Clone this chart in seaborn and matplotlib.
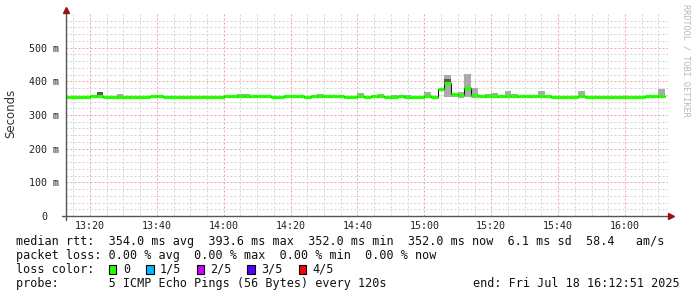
import numpy as np
import pandas as pd
import matplotlib
matplotlib.use("Agg")
import matplotlib.pyplot as plt
import seaborn as sns
from matplotlib.lines import Line2D
from matplotlib.patches import Rectangle

# ---------------- data ----------------
# bin start (minutes after 13:00), 2-minute steps
bin_start = list(range(12, 192, 2))
median_ms = [352, 352, 352, 352, 355, 355,
             352, 352, 352, 352, 352, 352, 352,
             355, 355,
             352, 352, 352, 352, 352, 352, 352, 352, 352,
             355, 355, 355, 355, 355, 355, 355,
             352, 352,
             355, 355, 355,
             352,
             355, 355, 355, 355, 355,
             352, 352,
             355, 353,
             355, 355,
             352, 352,
             355, 354,
             352, 352,
             357, 352, 377, 393.6, 362, 359, 380, 360,
             355, 355, 355, 355, 355, 355, 355, 355, 355, 355, 355,
             352, 352, 352, 352,
             356, 354, 354,
             352, 352, 352, 352, 352, 352, 352,
             355, 355, 355]

smoke_t = [22, 28, 32, 38, 42, 44, 54, 64, 66, 88, 100, 106, 110, 114, 120,
           126, 128, 130, 132, 134, 138, 140, 144, 146, 154, 166, 172, 186, 190]
smoke_lo = [355, 354, 353, 353, 352, 352, 353, 354, 354, 354, 354, 354, 354, 354, 352,
            353, 352, 350, 353, 350, 354, 354, 354, 354, 354, 354, 354, 354, 351]
smoke_hi = [368, 362, 356, 357, 356, 356, 357, 362, 362, 362, 366, 362, 360, 360, 368,
            419, 362, 368, 422, 380, 363, 366, 371, 363, 371, 371, 357, 357, 377]
dark_t = [22, 126]
dark_lo = [355, 395]
dark_hi = [368, 407]

xtick_min = [20, 40, 60, 80, 100, 120, 140, 160, 180]
xtick_lab = ["13:20", "13:40", "14:00", "14:20", "14:40", "15:00", "15:20", "15:40", "16:00"]
ytick_val = [0, 100, 200, 300, 400, 500]
ytick_lab = ["0", "100 m", "200 m", "300 m", "400 m", "500 m"]

loss_labels = ["0", "1/5", "2/5", "3/5", "4/5"]
loss_colors = ["#26ff00", "#00b8ff", "#d000ff", "#5200ff", "#ff0000"]

legend_l1 = "median rtt:  354.0 ms avg  393.6 ms max  352.0 ms min  352.0 ms now  6.1 ms sd  58.4   am/s"
legend_l2 = "packet loss: 0.00 % avg  0.00 % max  0.00 % min  0.00 % now"
legend_l3 = "loss color:"
legend_l4 = "probe:       5 ICMP Echo Pings (56 Bytes) every 120s"
legend_end = "end: Fri Jul 18 16:12:51 2025"

# ---------------- figure ----------------
sns.set_theme(style="white")
plt.rcParams['font.family'] = ['DejaVu Sans Mono']

W, H = 697, 297
fig = plt.figure(figsize=(W / 100, H / 100), dpi=100)
fig.patch.set_facecolor("white")


def fx(px):
    return px / W


def fy(py):
    return 1 - py / H


AX_L, AX_R, AX_T, AX_B = 66, 668, 13, 216
ax = fig.add_axes([fx(AX_L), fy(AX_B), (AX_R - AX_L) / W, (AX_B - AX_T) / H])
ax.set_facecolor("white")
ax.set_xlim(12.85, 192.85)
ax.set_ylim(0, 603)

# grid
minor_x = [m for m in range(15, 193, 5) if m not in xtick_min]
minor_y = [v for v in range(20, 603, 20) if v % 100 != 0]
for m in minor_x:
    ax.axvline(m, color="#d2d2d2", lw=0.72, ls=(0, (2, 2)), zorder=0)
for v in minor_y:
    ax.axhline(v, color="#d2d2d2", lw=0.72, ls=(0, (2, 2)), zorder=0)
for m in xtick_min:
    ax.axvline(m, color="#eaa6a6", lw=0.72, ls=(0, (2, 2)), zorder=0.5)
for v in ytick_val[1:]:
    ax.axhline(v, color="#eaa6a6", lw=0.72, ls=(0, (2, 2)), zorder=0.5)

# smoke
s_lo = np.array(smoke_lo, dtype=float)
s_hi = np.array(smoke_hi, dtype=float)
ax.bar(smoke_t, s_hi - s_lo, bottom=s_lo, width=2, align="edge",
       color="#aaaaaa", linewidth=0, zorder=2)
d_lo = np.array(dark_lo, dtype=float)
d_hi = np.array(dark_hi, dtype=float)
ax.bar(dark_t, d_hi - d_lo, bottom=d_lo, width=2, align="edge",
       color="#555555", linewidth=0, zorder=2.1)

# median black step line
df = pd.DataFrame({"t": bin_start + [bin_start[-1] + 2],
                   "rtt": median_ms + [median_ms[-1]]})
sns.lineplot(data=df, x="t", y="rtt", ax=ax, color="#111111", lw=0.75,
             drawstyle="steps-post", estimator=None, zorder=3)

# green median segments (loss 0)
bs = np.array(bin_start, dtype=float)
ax.hlines(median_ms, bs, bs + 2, colors="#26ff00", lw=2.4, zorder=4,
          capstyle="butt")

# axes styling
for s in ax.spines.values():
    s.set_visible(False)
ax.set_xlabel("")
ax.set_ylabel("")
ax.set_xticks(xtick_min)
ax.set_xticklabels(xtick_lab)
ax.set_yticks(ytick_val)
ax.set_yticklabels(ytick_lab)
ax.tick_params(axis="x", length=0, pad=3.5, labelsize=7.2, labelcolor="#222222")
ax.tick_params(axis="y", length=0, pad=15.5, labelsize=7.2, labelcolor="#222222")
for lab in ax.get_yticklabels():
    lab.set_horizontalalignment("center")

# axis lines and arrows (in pixel coordinates)
fig.add_artist(Line2D([fx(AX_L), fx(AX_L)], [fy(220), fy(11)], color="#555555", lw=1.0))
fig.add_artist(Line2D([fx(62), fx(670)], [fy(AX_B), fy(AX_B)], color="#555555", lw=1.0))
fig.add_artist(Line2D([fx(AX_L)], [fy(9.5)], marker="^", markersize=4.5,
                      color="#9b1010", lw=0))
fig.add_artist(Line2D([fx(671)], [fy(AX_B)], marker=">", markersize=4.5,
                      color="#9b1010", lw=0))

# labels
fig.text(fx(11), fy(113), "Seconds", rotation=90, ha="center", va="center",
         fontsize=8.5, color="#333333", family=["DejaVu Sans"])
fig.text(fx(686), fy(4), "RRDTOOL / TOBI OETIKER", rotation=270, ha="center",
         va="top", fontsize=6.1, color="#b8b8b8")

# legend
LFS = 8.5
fig.text(fx(16), fy(241.5), legend_l1, ha="left", va="center", fontsize=LFS, color="#111111")
fig.text(fx(16), fy(255.5), legend_l2, ha="left", va="center", fontsize=LFS, color="#111111")
fig.text(fx(16), fy(269.5), legend_l3, ha="left", va="center", fontsize=LFS, color="#111111")
fig.text(fx(16), fy(283.5), legend_l4, ha="left", va="center", fontsize=LFS, color="#111111")
fig.text(fx(680), fy(283.5), legend_end, ha="right", va="center", fontsize=LFS, color="#111111")

box_x = [108.5, 146, 196.5, 247, 298.5]
lab_x = [123, 160, 210.5, 261.5, 312]
for bx, lx, c, lab in zip(box_x, lab_x, loss_colors, loss_labels):
    fig.add_artist(Rectangle((fx(bx), fy(274)), 7.5 / W, 9 / H, facecolor=c,
                             edgecolor="black", lw=0.8, transform=fig.transFigure))
    fig.text(fx(lx), fy(269.5), lab, ha="left", va="center", fontsize=LFS, color="#111111")

fig.savefig("out.png", dpi=100, facecolor="white")
